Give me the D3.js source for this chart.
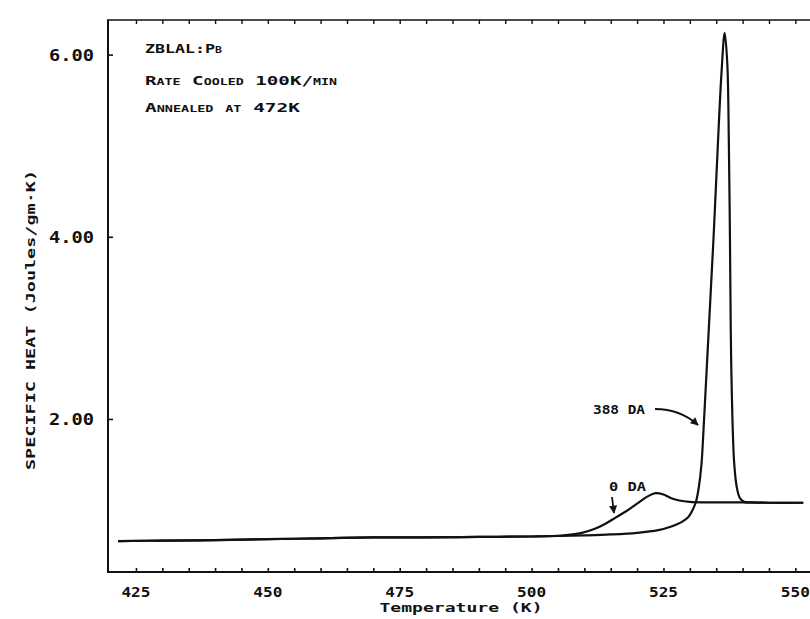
<!DOCTYPE html>
<html>
<head>
<meta charset="utf-8">
<script src="https://cdn.jsdelivr.net/npm/d3@7"></script>
<style>
  html, body { margin: 0; padding: 0; background: #fff; }
  svg { display: block; }
  text { font-family: "DejaVu Sans Mono", "Liberation Mono", monospace; font-weight: bold; fill: #111; }
</style>
</head>
<body>
<svg id="chart" width="810" height="619"></svg>
<script>
// ---- Data ----
const xTickValues = [425, 450, 475, 500, 525, 550];
const xTickLabels = ["425", "450", "475", "500", "525", "550"];
const yTickValues = [2, 4, 6];
const yTickLabels = ["2.00", "4.00", "6.00"];

// 0 DA curve (Temperature K, specific heat J/gm·K)
const temps0 = [421.6, 430, 440, 450, 460, 470, 480, 490, 500, 504, 507, 509.5, 512, 514, 516, 518, 520, 522, 523.5, 525, 526.5, 528, 530, 533, 540, 545, 551.5];
const cp0    = [0.66, 0.665, 0.67, 0.68, 0.69, 0.70, 0.70, 0.705, 0.71, 0.715, 0.728, 0.75, 0.795, 0.85, 0.92, 0.99, 1.07, 1.15, 1.185, 1.17, 1.13, 1.105, 1.09, 1.085, 1.085, 1.08, 1.08];

// 388 DA curve
const temps388 = [421.6, 430, 440, 450, 460, 470, 480, 490, 500, 505, 510, 515, 520, 524, 526.5, 528.5, 529.8, 530.6, 531.2, 531.7, 532.2, 532.7, 533.6, 534.5, 535.3, 536.0, 536.6, 537.1, 537.4, 537.6, 537.75, 537.95, 538.4, 538.9, 539.5, 540.3, 542, 545, 551.5];
const cp388    = [0.66, 0.665, 0.67, 0.68, 0.69, 0.70, 0.70, 0.705, 0.71, 0.715, 0.722, 0.732, 0.75, 0.78, 0.82, 0.87, 0.93, 1.01, 1.1, 1.25, 1.5, 2.0, 3.0, 4.0, 5.0, 5.8, 6.24, 5.9, 5.0, 4.0, 3.0, 2.3, 1.52, 1.25, 1.13, 1.09, 1.085, 1.08, 1.08];

const notes = ["ZBLAL:Pb", "Rate Cooled 100K/min", "Annealed at 472K"];

// ---- Scales ----
const svg = d3.select("#chart");
const x = d3.scaleLinear().domain([419.7, 556]).range([108, 827]);
const y = d3.scaleLinear().domain([0.32, 6.38]).range([572, 20]);

const ink = "#111";

// frame: left axis, bottom axis, top border
const g = svg.append("g");
g.append("line").attr("x1", x(419.7)).attr("x2", x(419.7)).attr("y1", y(6.38)).attr("y2", y(0.32))
  .attr("stroke", ink).attr("stroke-width", 2);
g.append("line").attr("x1", x(419.7) - 1).attr("x2", 810).attr("y1", y(0.32)).attr("y2", y(0.32))
  .attr("stroke", ink).attr("stroke-width", 2);
g.append("line").attr("x1", x(419.7) - 1).attr("x2", 810).attr("y1", y(6.38)).attr("y2", y(6.38))
  .attr("stroke", ink).attr("stroke-width", 1.6);

// bottom axis minor ticks every 5 K (inward)
const minorX = d3.range(425, 556, 5);
const xAxisB = d3.axisTop(x).tickValues(minorX).tickSize(4).tickFormat("");
svg.append("g").attr("transform", `translate(0,${y(0.32)})`).call(xAxisB)
  .call(s => { s.select(".domain").remove(); s.selectAll("line").attr("stroke", ink).attr("stroke-width", 1.6); });
const xAxisT = d3.axisBottom(x).tickValues(minorX).tickSize(4).tickFormat("");
svg.append("g").attr("transform", `translate(0,${y(6.38)})`).call(xAxisT)
  .call(s => { s.select(".domain").remove(); s.selectAll("line").attr("stroke", ink).attr("stroke-width", 1.4); });

// x tick labels
svg.append("g").selectAll("text").data(xTickValues).join("text")
  .attr("x", d => x(d)).attr("y", 597)
  .attr("text-anchor", "middle").attr("font-size", 14)
  .attr("textLength", 29).attr("lengthAdjust", "spacingAndGlyphs")
  .text((d, i) => xTickLabels[i]);

// y ticks (inward)
const yAxis = d3.axisRight(y).tickValues(yTickValues).tickSize(5).tickFormat("");
svg.append("g").attr("transform", `translate(${x(419.7)},0)`).call(yAxis)
  .call(s => { s.select(".domain").remove(); s.selectAll("line").attr("stroke", ink).attr("stroke-width", 1.6); });
svg.append("g").selectAll("text").data(yTickValues).join("text")
  .attr("x", 94).attr("y", d => y(d) + 6)
  .attr("text-anchor", "end").attr("font-size", 15)
  .attr("textLength", 45).attr("lengthAdjust", "spacingAndGlyphs")
  .text((d, i) => yTickLabels[i]);

// axis titles
svg.append("text").attr("x", 461).attr("y", 612).attr("text-anchor", "middle")
  .attr("font-size", 13).attr("textLength", 163).attr("lengthAdjust", "spacingAndGlyphs")
  .text("Temperature (K)");
svg.append("text").attr("transform", "translate(35,320) rotate(-90)").attr("text-anchor", "middle")
  .attr("font-size", 13).attr("textLength", 300).attr("lengthAdjust", "spacingAndGlyphs")
  .text("SPECIFIC HEAT (Joules/gm·K)");

// notes
const noteY = [53, 85, 112];
const noteW = [77, 192, 155];
svg.append("g").selectAll("text").data(notes).join("text")
  .attr("x", 145).attr("y", (d, i) => noteY[i])
  .attr("font-size", 13).style("font-variant", "small-caps")
  .attr("textLength", (d, i) => noteW[i]).attr("lengthAdjust", "spacingAndGlyphs")
  .text(d => d);

// curves
const line = d3.line().x(d => x(d[0])).y(d => y(d[1])).curve(d3.curveCatmullRom.alpha(0.5));
svg.append("path").datum(temps0.map((t, i) => [t, cp0[i]]))
  .attr("d", line).attr("fill", "none").attr("stroke", ink).attr("stroke-width", 2.2);
svg.append("path").datum(temps388.map((t, i) => [t, cp388[i]]))
  .attr("d", line).attr("fill", "none").attr("stroke", ink).attr("stroke-width", 2.2);

// arrow marker
const defs = svg.append("defs");
defs.append("marker").attr("id", "ah").attr("viewBox", "0 0 10 10").attr("refX", 9).attr("refY", 5)
  .attr("markerWidth", 10).attr("markerHeight", 8).attr("markerUnits", "userSpaceOnUse")
  .attr("orient", "auto")
  .append("path").attr("d", "M0,0 L10,5 L0,10 Z").attr("fill", ink);

// curve labels
svg.append("text").attr("x", 593).attr("y", 414).attr("font-size", 12)
  .attr("textLength", 52).attr("lengthAdjust", "spacingAndGlyphs").text("388 DA");
svg.append("path").attr("d", "M655,409 Q680,409 698,425").attr("fill", "none")
  .attr("stroke", ink).attr("stroke-width", 1.8).attr("marker-end", "url(#ah)");

svg.append("text").attr("x", 609).attr("y", 491).attr("font-size", 12)
  .attr("textLength", 37).attr("lengthAdjust", "spacingAndGlyphs").text("0 DA");
svg.append("path").attr("d", "M612,497 L614,513").attr("fill", "none")
  .attr("stroke", ink).attr("stroke-width", 1.8).attr("marker-end", "url(#ah)");
</script>
</body>
</html>
